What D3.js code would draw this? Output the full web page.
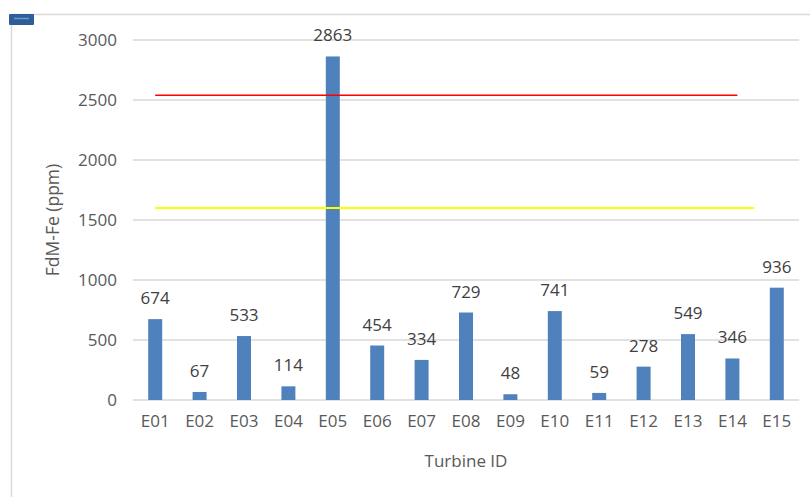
<!DOCTYPE html>
<html>
<head>
<meta charset="utf-8">
<script src="https://cdn.jsdelivr.net/npm/d3@7"></script>
<style>
  html, body { margin: 0; padding: 0; background: #fff; }
  svg { display: block; }
  text { font-family: "Open Sans", "Liberation Sans", sans-serif; }
</style>
</head>
<body>
<svg id="chart" width="810" height="497"></svg>
<script>
// Fe concentration per turbine
const turbines = ["E01","E02","E03","E04","E05","E06","E07","E08","E09","E10","E11","E12","E13","E14","E15"];
const feValues = [674, 67, 533, 114, 2863, 454, 334, 729, 48, 741, 59, 278, 549, 346, 936];
const yTicks = [0, 500, 1000, 1500, 2000, 2500, 3000];

// Alert levels (ppm)
const alarmLevel = 2540;
const warningLevel = 1600;

const svg = d3.select("#chart");
const W = 810, H = 497;
const plot = { left: 133, right: 799, top: 40, bottom: 400 };
const fontSize = 17;

// Frame around the chart area
svg.append("line").attr("x1", 10).attr("x2", W).attr("y1", 14.5).attr("y2", 14.5)
  .attr("stroke", "#d9d9d9").attr("stroke-width", 1.5);
svg.append("line").attr("x1", 11.5).attr("x2", 11.5).attr("y1", 14).attr("y2", H)
  .attr("stroke", "#d9d9d9").attr("stroke-width", 1.5);
svg.append("rect").attr("x", 9).attr("y", 14).attr("width", 25).attr("height", 11)
  .attr("fill", "#2e5d98").attr("rx", 1);
svg.append("line").attr("x1", 14).attr("x2", 29).attr("y1", 18.5).attr("y2", 18.5)
  .attr("stroke", "#6f97c9").attr("stroke-width", 1.5);

const x = d3.scaleBand().domain(turbines).range([plot.left, plot.right]).paddingInner(0.685).paddingOuter(0.3425);
const y = d3.scaleLinear().domain([0, 3000]).range([plot.bottom, plot.top]);

// Gridlines
svg.append("g").selectAll("line").data(yTicks).join("line")
  .attr("x1", plot.left).attr("x2", plot.right)
  .attr("y1", d => y(d)).attr("y2", d => y(d))
  .attr("stroke", "#d9d9d9").attr("stroke-width", 1.3);

// Y axis labels
const yAxis = svg.append("g").attr("transform", `translate(${plot.left - 16},0)`)
  .call(d3.axisLeft(y).tickValues(yTicks).tickSize(0).tickPadding(0).tickFormat(d3.format("d")));
yAxis.select(".domain").remove();
yAxis.selectAll("text").attr("fill", "#595959").attr("font-size", fontSize)
  .attr("font-family", "Open Sans, sans-serif").attr("dy", "0.34em");

// X axis labels
const xAxis = svg.append("g").attr("transform", `translate(0,${plot.bottom + 15})`)
  .call(d3.axisBottom(x).tickSize(0).tickPadding(0));
xAxis.select(".domain").remove();
xAxis.selectAll("text").attr("fill", "#595959").attr("font-size", fontSize)
  .attr("font-family", "Open Sans, sans-serif").attr("dy", "0.7em");

// Bars
svg.append("g").selectAll("rect").data(turbines).join("rect")
  .attr("x", d => x(d))
  .attr("width", x.bandwidth())
  .attr("y", (d, i) => y(feValues[i]))
  .attr("height", (d, i) => y(0) - y(feValues[i]))
  .attr("fill", "#4f81bd");

// Value labels
svg.append("g").selectAll("text").data(turbines).join("text")
  .attr("x", d => x(d) + x.bandwidth() / 2)
  .attr("y", (d, i) => y(feValues[i]) - 15)
  .attr("text-anchor", "middle")
  .attr("font-size", fontSize)
  .attr("fill", "#404040")
  .text((d, i) => feValues[i]);

// Alert level lines, spanning from the first bar centre
const centre = i => x(turbines[i]) + x.bandwidth() / 2;
svg.append("line")
  .attr("x1", centre(0)).attr("x2", centre(13) + 5)
  .attr("y1", y(alarmLevel)).attr("y2", y(alarmLevel))
  .attr("stroke", "#ff0000").attr("stroke-width", 1.5);
svg.append("line")
  .attr("x1", centre(0)).attr("x2", centre(13) + 22)
  .attr("y1", y(warningLevel)).attr("y2", y(warningLevel))
  .attr("stroke", "#ffff00").attr("stroke-width", 2);

// Axis titles
svg.append("text")
  .attr("x", (plot.left + plot.right) / 2).attr("y", 467)
  .attr("text-anchor", "middle").attr("font-size", fontSize).attr("fill", "#595959")
  .text("Turbine ID");
svg.append("text")
  .attr("transform", `translate(59,${(plot.top + plot.bottom) / 2}) rotate(-90)`)
  .attr("text-anchor", "middle").attr("font-size", 17.5).attr("fill", "#595959")
  .text("FdM-Fe (ppm)");
</script>
</body>
</html>
